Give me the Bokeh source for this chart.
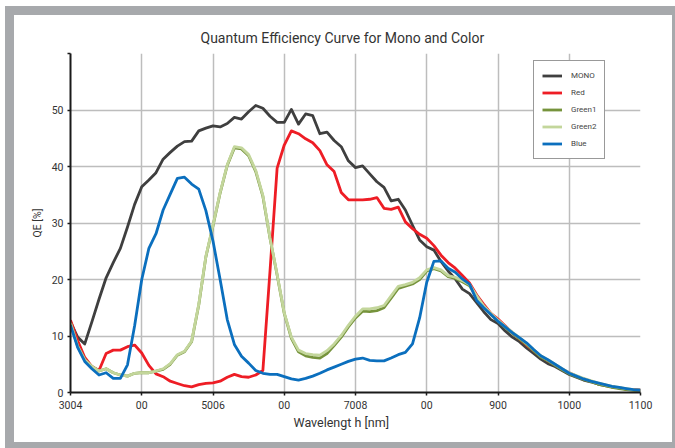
from bokeh.plotting import figure
from bokeh.models import (FixedTicker, Legend, LegendItem, Title, ColumnDataSource)
from bokeh.embed import file_html
from bokeh.resources import INLINE

wavelength = [300, 310, 320, 330, 340, 350, 360, 370, 380, 390,
              400, 410, 420, 430, 440, 450, 460, 470, 480, 490,
              500, 510, 520, 530, 540, 550, 560, 570, 580, 590,
              600, 610, 620, 630, 640, 650, 660, 670, 680, 690,
              700, 710, 720, 730, 740, 750, 760, 770, 780, 790,
              800, 810, 820, 830, 840, 850, 860, 870, 880, 890,
              900, 910, 920, 930, 940, 950, 960, 970, 980, 990,
              1000, 1010, 1020, 1030, 1040, 1050, 1060, 1070, 1080, 1090, 1100]

mono = [12.5, 9.8, 8.6, 12.5, 16.5, 20.3, 23.0, 25.5, 29.3, 33.3,
        36.4, 37.6, 38.9, 41.3, 42.5, 43.6, 44.4, 44.5, 46.3, 46.8,
        47.2, 47.0, 47.6, 48.7, 48.4, 49.7, 50.8, 50.3, 48.9, 47.8,
        47.8, 50.1, 47.5, 49.3, 49.0, 45.8, 46.1, 44.6, 43.5, 41.0,
        39.8, 40.1, 38.7, 37.3, 36.3, 33.9, 34.2, 32.3, 29.6, 27.0,
        25.8, 25.2, 23.2, 21.5, 20.1, 18.3, 17.5, 15.9, 14.3, 12.9,
        12.2, 10.9, 9.8, 9.0, 7.9, 6.9, 5.9, 5.1, 4.6, 3.9,
        3.2, 2.7, 2.2, 1.9, 1.5, 1.2, 1.0, 0.8, 0.6, 0.5, 0.4]

red = [12.8, 9.2, 6.2, 4.6, 3.9, 6.9, 7.5, 7.5, 8.1, 8.4,
       7.0, 4.8, 3.3, 2.8, 2.0, 1.6, 1.2, 1.0, 1.4, 1.6,
       1.7, 2.0, 2.7, 3.2, 2.8, 2.7, 3.1, 3.9, 21.5, 39.7,
       43.8, 46.3, 45.8, 44.9, 44.2, 42.8, 40.3, 39.1, 35.4, 34.1,
       34.1, 34.1, 34.2, 34.5, 32.6, 32.4, 32.8, 30.2, 29.0, 28.0,
       27.3, 26.0, 24.3, 23.0, 22.0, 20.7, 19.4, 17.3, 15.6, 14.0,
       13.0, 11.8, 10.6, 9.5, 8.4, 7.4, 6.4, 5.6, 4.9, 4.1,
       3.5, 2.9, 2.4, 2.0, 1.6, 1.3, 1.0, 0.8, 0.6, 0.5, 0.4]

green1 = [12.3, 8.2, 5.8, 4.6, 3.8, 4.2, 3.5, 3.1, 2.9, 3.4,
          3.5, 3.5, 3.8, 4.1, 5.0, 6.6, 7.2, 9.0, 15.5, 24.0,
          29.5, 35.3, 40.2, 43.3, 43.1, 41.9, 39.1, 34.7, 27.3, 20.8,
          14.0, 9.6, 7.2, 6.5, 6.2, 6.1, 6.9, 8.3, 9.8, 11.6,
          13.2, 14.4, 14.3, 14.5, 15.0, 16.7, 18.4, 18.8, 19.2, 20.0,
          21.5, 21.9, 21.5, 20.5, 20.2, 19.6, 18.9, 16.9, 15.1, 13.8,
          12.6, 11.5, 10.5, 9.5, 8.5, 7.4, 6.3, 5.6, 4.8, 4.0,
          3.3, 2.8, 2.3, 1.9, 1.5, 1.2, 0.9, 0.7, 0.5, 0.4, 0.3]

green2 = [12.3, 8.2, 5.8, 4.6, 3.8, 4.2, 3.5, 3.1, 2.9, 3.4,
          3.5, 3.5, 3.8, 4.2, 5.1, 6.7, 7.3, 9.1, 15.6, 24.1,
          29.6, 35.4, 40.3, 43.5, 43.3, 42.1, 39.3, 34.9, 27.4, 20.9,
          14.1, 9.8, 7.5, 6.9, 6.7, 6.6, 7.4, 8.6, 10.1, 11.9,
          13.5, 14.8, 14.8, 15.0, 15.4, 17.1, 18.8, 19.1, 19.5, 20.3,
          21.7, 22.1, 21.7, 20.7, 20.4, 19.8, 19.1, 17.1, 15.3, 14.0,
          12.8, 11.7, 10.7, 9.7, 8.7, 7.6, 6.5, 5.8, 5.0, 4.2,
          3.5, 3.0, 2.5, 2.1, 1.7, 1.4, 1.1, 0.9, 0.7, 0.5, 0.4]

blue = [11.9, 8.0, 5.5, 4.2, 3.1, 3.5, 2.5, 2.5, 4.9, 11.8,
        20.0, 25.5, 28.1, 32.3, 35.1, 37.9, 38.1, 36.9, 36.0, 32.2,
        26.8, 20.0, 12.9, 8.5, 6.4, 5.2, 3.9, 3.4, 3.2, 3.2,
        2.8, 2.4, 2.2, 2.5, 2.9, 3.4, 4.0, 4.5, 5.0, 5.5,
        5.9, 6.1, 5.7, 5.6, 5.6, 6.1, 6.7, 7.1, 8.6, 13.2,
        19.5, 23.2, 23.3, 22.0, 21.3, 20.1, 19.2, 16.3, 15.0, 13.8,
        12.6, 11.6, 10.6, 9.7, 8.8, 7.6, 6.5, 5.8, 5.0, 4.2,
        3.4, 2.9, 2.4, 2.0, 1.7, 1.4, 1.1, 0.9, 0.7, 0.5, 0.4]

x_ticks = [300, 400, 500, 600, 700, 800, 900, 1000, 1100]
x_tick_labels = ["3004", "00", "5006", "00", "7008", "00", "900", "1000", "1100"]
y_ticks = [0, 10, 20, 30, 40, 50, 60]
y_tick_labels = ["0", "10", "20", "30", "40", "50", ""]

series_names = ["MONO", "Red", "Green1", "Green2", "Blue"]
series_keys = ["mono", "red", "green1", "green2", "blue"]
series_colors = ["#3f3f3f", "#ee1d25", "#76933c", "#c3d69b", "#0b6fbe"]

FONT = "Roboto"
GRAY = "#a7a9ac"

p = figure(width=658, height=427, output_backend="svg", toolbar_location=None,
           x_range=(300, 1100), y_range=(0, 60),
           frame_width=570, frame_height=339,
           min_border_left=56, min_border_right=32, min_border_top=38, min_border_bottom=50,
           styles={"position": "relative", "left": "14px", "top": "15px",
                   "outline": "9px solid " + GRAY})
p.border_fill_color = "white"
p.background_fill_color = "white"
p.outline_line_color = None

# title
t = Title(text="Quantum Efficiency Curve for Mono and Color", align="left", offset=130,
          standoff=16, text_font=FONT, text_font_size="14px", text_font_style="normal",
          text_color="#333333")
p.add_layout(t, "above")

# axes
p.xaxis.ticker = FixedTicker(ticks=x_ticks)
p.xaxis.major_label_overrides = {tk: lb for tk, lb in zip(x_ticks, x_tick_labels)}
p.yaxis.ticker = FixedTicker(ticks=y_ticks)
p.yaxis.major_label_overrides = {tk: lb for tk, lb in zip(y_ticks, y_tick_labels)}
for ax in (p.xaxis, p.yaxis):
    ax.axis_line_color = "#1a1a1a"
    ax.axis_line_width = 2
    ax.major_tick_line_color = "#1a1a1a"
    ax.major_tick_line_width = 1.5
    ax.major_tick_out = 3
    ax.major_tick_in = 0
    ax.minor_tick_line_color = None
    ax.major_label_text_font = FONT
    ax.major_label_text_font_size = "10.5px"
    ax.major_label_text_color = "#333333"
    ax.axis_label_text_font = FONT
    ax.axis_label_text_font_style = "normal"
    ax.axis_label_text_color = "#333333"
p.xaxis.major_label_standoff = 5
p.yaxis.axis_label = "QE [%]"
p.yaxis.axis_label_text_font_size = "10.5px"
p.yaxis.major_label_standoff = 4
p.yaxis.axis_label_standoff = 5

# x-axis title (placed slightly left of the frame centre, as in the original)
xt = Title(text="Wavelengt h [nm]", align="left", offset=223, standoff=3,
           text_font=FONT, text_font_size="12.5px", text_font_style="normal",
           text_color="#333333")
p.add_layout(xt, "below")

p.grid.grid_line_color = "#bdbdbd"
p.grid.grid_line_width = 1.5
p.xgrid.ticker = FixedTicker(ticks=x_ticks)
p.ygrid.ticker = FixedTicker(ticks=y_ticks)

src = ColumnDataSource(dict(wl=wavelength, mono=mono, red=red, green1=green1,
                            green2=green2, blue=blue))
items = []
for name, col, key in zip(series_names, series_colors, series_keys):
    r = p.line("wl", key, source=src, line_color=col, line_width=2.8, line_join="round")
    items.append(LegendItem(label=name, renderers=[r]))

legend = Legend(items=items, location=(463, 233))
legend.label_text_font = FONT
legend.label_text_font_size = "8px"
legend.label_text_color = "#444444"
legend.glyph_width = 20
legend.glyph_height = 13
legend.label_height = 13
legend.spacing = 4
legend.padding = 8
legend.label_standoff = 9
legend.border_line_color = "#333333"
legend.border_line_width = 1.5
legend.background_fill_color = "white"
legend.background_fill_alpha = 1
legend.margin = 0
p.add_layout(legend, "center")

open("out.html", "w").write(file_html(p, INLINE))
